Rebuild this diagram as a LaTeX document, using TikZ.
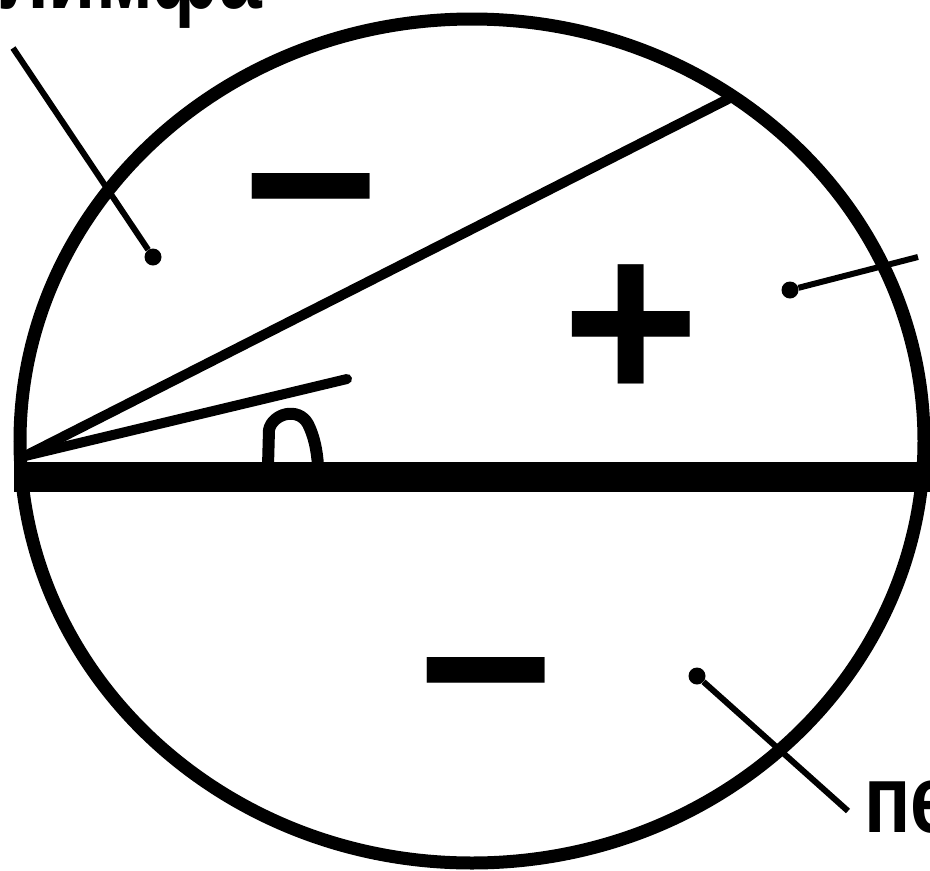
\documentclass[tikz,border=0pt]{standalone}
\usepackage{fontspec}
\setmainfont{Liberation Sans}
\usepackage{tikz}
\usetikzlibrary{positioning, calc}

\tikzset{
  wall/.style={line width=13pt},
  membrane/.style={line width=10pt, line cap=round},
  basilar/.style={line width=30pt},
  pointer/.style={line width=6pt},
  pdot/.style={circle, fill=black, inner sep=0pt, minimum size=17pt},
  sign/.style={font=\fontsize{235}{235}\selectfont\bfseries, inner sep=0pt},
  fluid/.style={font=\fontsize{96}{96}\selectfont\bfseries, inner sep=0pt}
}

\begin{document}
\begin{tikzpicture}[x=1pt, y=-1pt]
  \useasboundingbox (0,0) rectangle (930,871);
  \clip (0,0) rectangle (930,871);

  % canal wall and membranes
  \draw[wall] (472,441) ellipse [x radius=452pt, y radius=422pt];
  \coordinate (apex) at (25,456);
  \coordinate (memtop) at (730,98);
  \coordinate (memshort) at (347,379);
  \coordinate (basl) at (14,477);
  \coordinate (basr) at (945,477);
  \draw[basilar] (basl) -- (basr);
  \draw[membrane] (apex) -- (memtop);
  \draw[membrane] (apex) -- (memshort);
  % angle mark
  \draw[line width=12pt] (268,466) -- (269,430) .. controls (272,414) and (298,406) .. (308,424)
    .. controls (314,436) and (317,450) .. (318,466);

  % signs
  \node[sign] (minustop) at (311,219) {−};
  \node[sign] (plus) at (631,334) {+};
  \node[sign] (minusbot) at (486,703) {−};

  % pointers
  \node[pdot] (dottop) at (153,257) {};
  \node[pdot] (dotright) at (790,290) {};
  \node[pdot] (dotbot) at (697,676) {};
  \coordinate (endtop) at (13,48);
  \coordinate (endright) at (918,257);
  \coordinate (endbot) at (848,811);
  \draw[pointer] (dottop) -- (endtop);
  \draw[pointer] (dotright) -- (endright);
  \draw[pointer] (dotbot) -- (endbot);

  % labels
  \node[fluid, anchor=base east] (peritop) at (262,8) {\scalebox{0.8}[1]{перилимфа}};
  \node[fluid, anchor=base west] (peribot) at (864,832) {\scalebox{0.8}[1]{перилимфа}};
\end{tikzpicture}
\end{document}
